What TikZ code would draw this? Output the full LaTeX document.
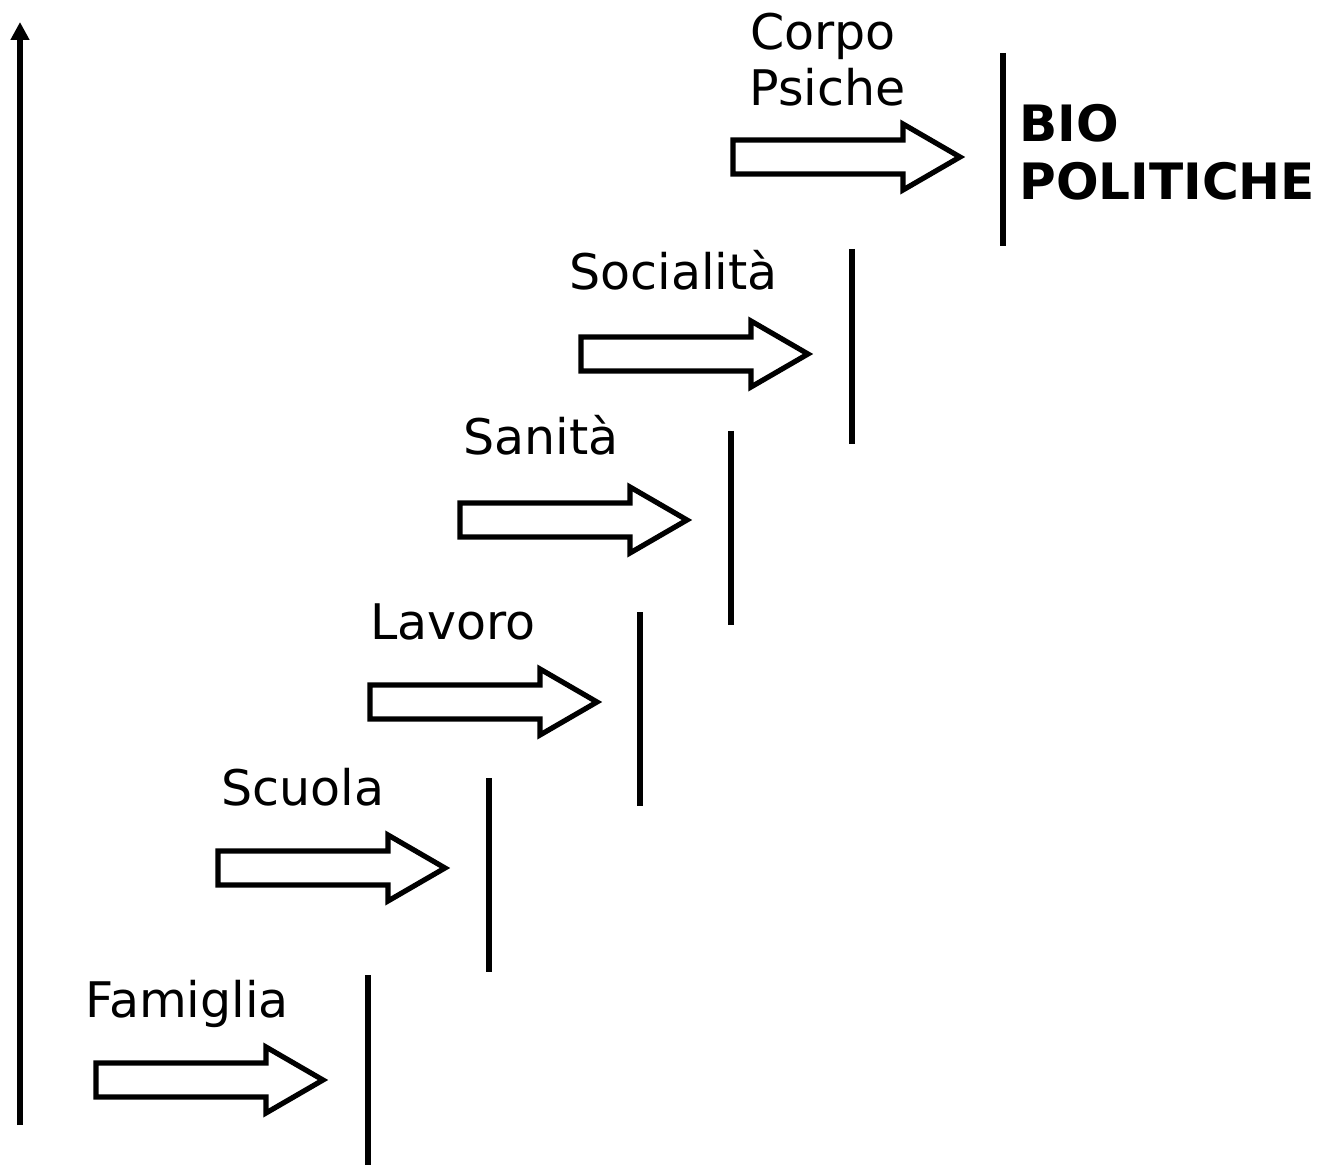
\documentclass[tikz,border=0pt]{standalone}
\usepackage{fontspec}
\setmainfont{DejaVu Sans}
\usetikzlibrary{arrows.meta}

\tikzset{
  lbl/.style={anchor=base west, inner sep=0pt, font=\fontsize{36.8}{44}\selectfont},
  biglbl/.style={lbl, font=\fontsize{37.6}{45}\selectfont\bfseries},
  bar/.style={line width=4.5pt},
  blockarrow/.pic={
    \draw[line width=3.9pt, fill=white]
      (0,-17) -- (170,-17) -- (170,-33) -- (227,0) -- (170,33) -- (170,17) -- (0,17) -- cycle;
  }
}

\begin{document}
\begin{tikzpicture}[x=0.75pt, y=-0.75pt]
  \useasboundingbox (0,0) rectangle (1322,1166);

  % asse verticale
  \coordinate (axbot) at (20,1125);
  \coordinate (axtop) at (20,22);
  \draw[line width=4.5pt, -{Triangle[width=13.5pt, length=13.5pt]}] (axbot) -- (axtop);

  % frecce
  \pic (famarr) at (96,1080) {blockarrow};
  \pic (scuarr) at (218,868) {blockarrow};
  \pic (lavarr) at (370,702) {blockarrow};
  \pic (sanarr) at (460,520) {blockarrow};
  \pic (socarr) at (581,354) {blockarrow};
  \pic (corarr) at (733,157) {blockarrow};

  % barre
  \draw[bar] (368,975) -- (368,1165);
  \draw[bar] (489,778) -- (489,972);
  \draw[bar] (640,612) -- (640,806);
  \draw[bar] (731,431) -- (731,625);
  \draw[bar] (852,249) -- (852,444);
  \draw[bar] (1003,53) -- (1003,246);

  % etichette
  \node[lbl] (fam) at (85,1017) {Famiglia};
  \node[lbl] (scu) at (221,805) {Scuola};
  \node[lbl] (lav) at (370,639) {Lavoro};
  \node[lbl] (san) at (463,455) {Sanità};
  \node[lbl] (soc) at (569,290) {Socialità};
  \node[lbl] (cor) at (750,50) {Corpo};
  \node[lbl] (psi) at (749,106) {Psiche};
  \node[biglbl] (bio) at (1019,142) {BIO};
  \node[biglbl] (pol) at (1019,200) {POLITICHE};
\end{tikzpicture}
\end{document}
